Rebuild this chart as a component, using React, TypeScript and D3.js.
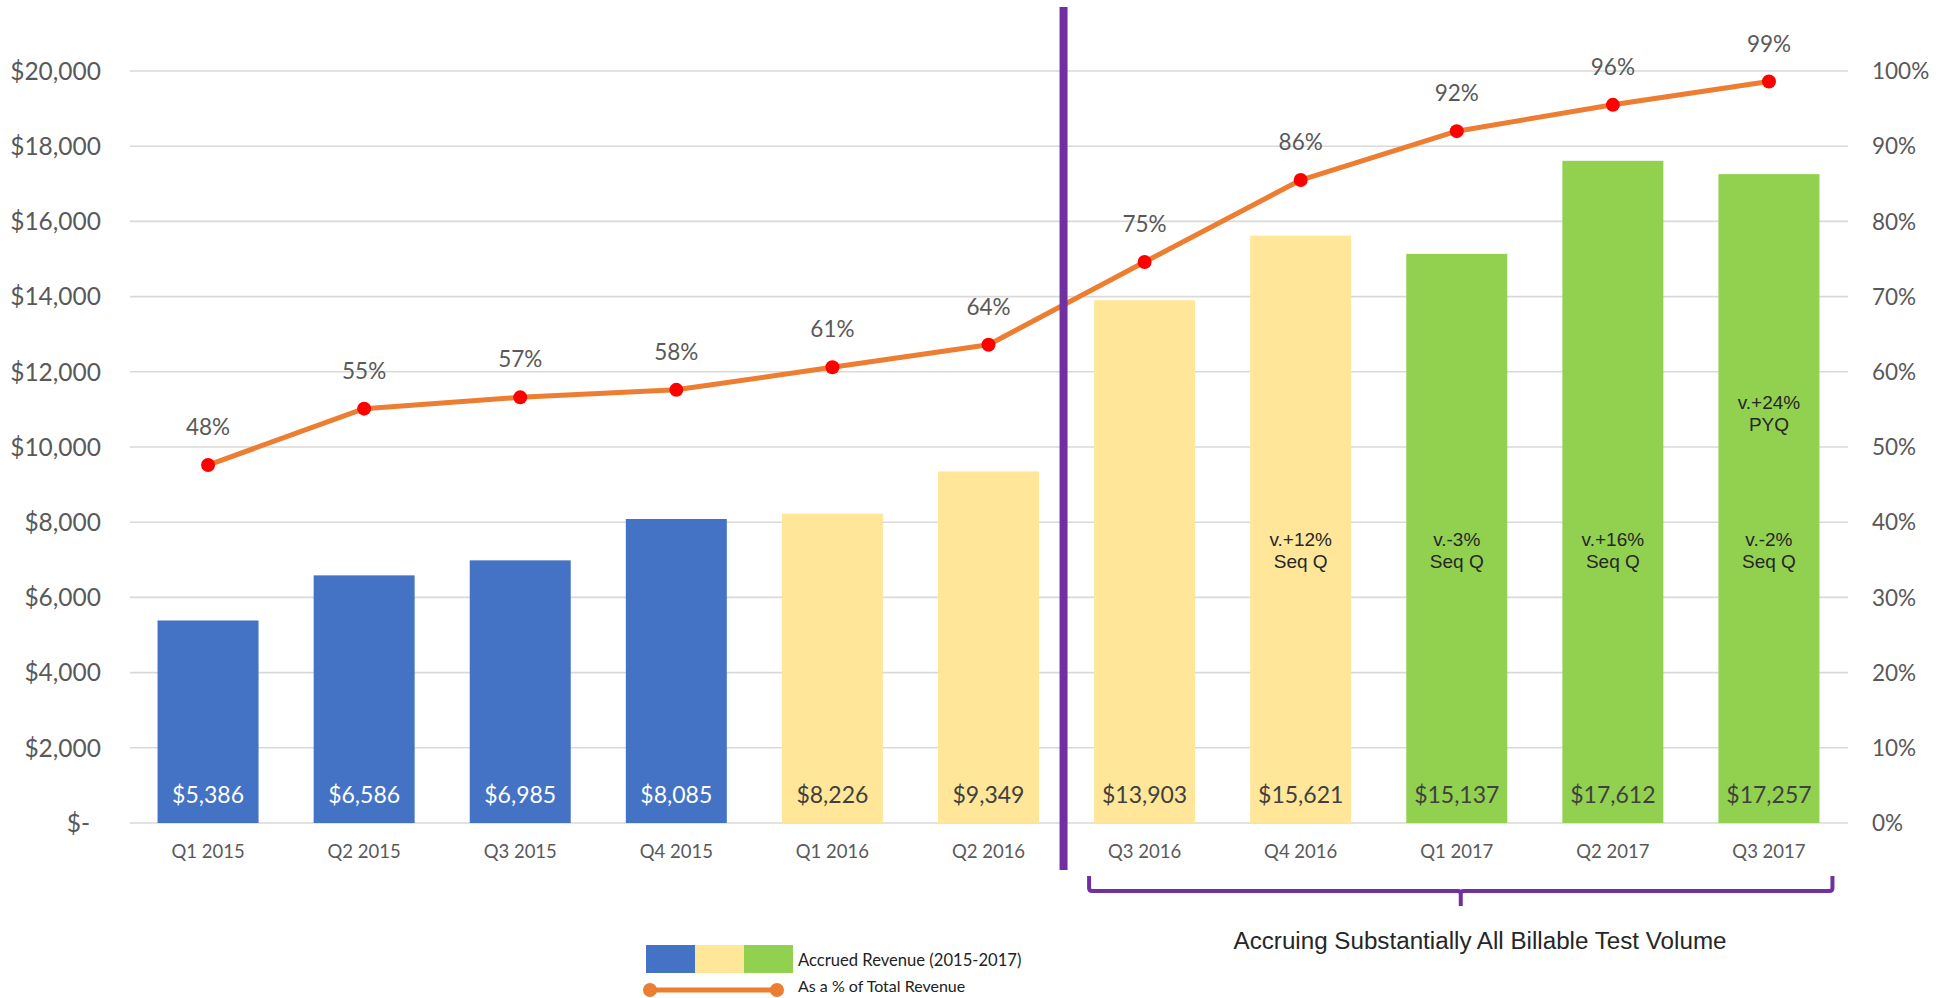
// @ts-nocheck
import { useEffect, useRef } from 'react';
import * as d3 from 'd3';

const quarters = ['Q1 2015', 'Q2 2015', 'Q3 2015', 'Q4 2015', 'Q1 2016', 'Q2 2016', 'Q3 2016', 'Q4 2016', 'Q1 2017', 'Q2 2017', 'Q3 2017'];
const revenue = [5386, 6586, 6985, 8085, 8226, 9349, 13903, 15621, 15137, 17612, 17257];
const pctOfTotal = [0.476, 0.551, 0.566, 0.576, 0.606, 0.636, 0.746, 0.855, 0.92, 0.955, 0.986];
const barPeriod = ['A', 'A', 'A', 'A', 'B', 'B', 'B', 'B', 'C', 'C', 'C'];
const seqChange = [null, null, null, null, null, null, null, 'v.+12%', 'v.-3%', 'v.+16%', 'v.-2%'];
const pyqChange = [null, null, null, null, null, null, null, null, null, null, 'v.+24%'];
const leftTicks = [0, 2000, 4000, 6000, 8000, 10000, 12000, 14000, 16000, 18000, 20000];
const rightTicks = [0, 0.1, 0.2, 0.3, 0.4, 0.5, 0.6, 0.7, 0.8, 0.9, 1];
const legendLabels = ['Accrued Revenue (2015-2017)', 'As a % of Total Revenue'];
const bracketLabel = 'Accruing Substantially All Billable Test Volume';

const W = 1949;
const H = 998;
const CAL = 'Lato, "Open Sans", sans-serif';
const ARIAL = '"Liberation Sans", Arial, sans-serif';

const RevenueChart = () => {
  const svgRef = useRef();

  useEffect(() => {
    const svg = d3.select(svgRef.current);
    svg.selectAll('*').remove();

    const x = d3.scaleBand().domain(quarters).range([130, 1847]).paddingInner(0.353).paddingOuter(0.1765);
    const yL = d3.scaleLinear().domain([0, 20000]).range([823, 71]);
    const yR = d3.scaleLinear().domain([0, 1]).range([823, 71]);
    const color = d3.scaleOrdinal().domain(['A', 'B', 'C']).range(['#4472C4', '#FFE699', '#92D050']);
    const cx = q => x(q) + x.bandwidth() / 2;

    // gridlines
    svg.append('g')
      .selectAll('line')
      .data(leftTicks)
      .enter()
      .append('line')
      .attr('x1', 130)
      .attr('x2', 1848)
      .attr('y1', d => yL(d))
      .attr('y2', d => yL(d))
      .attr('stroke', '#D9D9D9')
      .attr('stroke-width', 1.6);

    // left axis
    svg.append('g')
      .selectAll('text')
      .data(leftTicks)
      .enter()
      .append('text')
      .attr('x', d => (d === 0 ? 90 : 101))
      .attr('y', d => yL(d))
      .attr('dy', '0.36em')
      .attr('text-anchor', 'end')
      .style('font-family', CAL)
      .style('font-size', '24.5px')
      .attr('fill', '#595959')
      .text(d => (d === 0 ? '$-' : '$' + d3.format(',')(d)));

    // right axis
    svg.append('g')
      .selectAll('text')
      .data(rightTicks)
      .enter()
      .append('text')
      .attr('x', 1872)
      .attr('y', d => yR(d))
      .attr('dy', '0.36em')
      .style('font-family', CAL)
      .style('font-size', '22.5px')
      .attr('fill', '#595959')
      .text(d => d3.format('.0%')(d));

    // bars
    svg.append('g')
      .selectAll('rect')
      .data(quarters)
      .enter()
      .append('rect')
      .attr('x', d => x(d))
      .attr('y', (d, i) => yL(revenue[i]))
      .attr('width', x.bandwidth())
      .attr('height', (d, i) => yL(0) - yL(revenue[i]))
      .attr('fill', (d, i) => color(barPeriod[i]));

    // bar value labels
    svg.append('g')
      .selectAll('text')
      .data(quarters)
      .enter()
      .append('text')
      .attr('x', d => cx(d))
      .attr('y', yL(0) - 20)
      .attr('text-anchor', 'middle')
      .style('font-family', CAL)
      .style('font-size', '23px')
      .attr('fill', (d, i) => (barPeriod[i] === 'A' ? '#FFFFFF' : '#404040'))
      .text((d, i) => '$' + d3.format(',')(revenue[i]));

    // x labels
    svg.append('g')
      .selectAll('text')
      .data(quarters)
      .enter()
      .append('text')
      .attr('x', d => cx(d))
      .attr('y', yL(0) + 35)
      .attr('text-anchor', 'middle')
      .style('font-family', CAL)
      .style('font-size', '18.5px')
      .attr('fill', '#595959')
      .text(d => d);

    // change annotations
    const notes = svg.append('g')
      .style('font-family', ARIAL)
      .style('font-size', '19px')
      .attr('fill', '#262626')
      .attr('text-anchor', 'middle');
    quarters.forEach((q, i) => {
      if (seqChange[i]) {
        notes.append('text').attr('x', cx(q)).attr('y', yL(7370)).text(seqChange[i]);
        notes.append('text').attr('x', cx(q)).attr('y', yL(7370) + 22).text('Seq Q');
      }
      if (pyqChange[i]) {
        notes.append('text').attr('x', cx(q)).attr('y', yL(11000)).text(pyqChange[i]);
        notes.append('text').attr('x', cx(q)).attr('y', yL(11000) + 22).text('PYQ');
      }
    });

    // percentage line
    const line = d3.line()
      .x(d => cx(d))
      .y((d, i) => yR(pctOfTotal[i]));
    svg.append('path')
      .datum(quarters)
      .attr('d', line)
      .attr('fill', 'none')
      .attr('stroke', '#ED7D31')
      .attr('stroke-width', 5)
      .attr('stroke-linejoin', 'round');

    svg.append('g')
      .selectAll('circle')
      .data(quarters)
      .enter()
      .append('circle')
      .attr('cx', d => cx(d))
      .attr('cy', (d, i) => yR(pctOfTotal[i]))
      .attr('r', 7)
      .attr('fill', '#FF0000');

    svg.append('g')
      .selectAll('text')
      .data(quarters)
      .enter()
      .append('text')
      .attr('x', d => cx(d))
      .attr('y', (d, i) => yR(pctOfTotal[i]) - 30)
      .attr('text-anchor', 'middle')
      .style('font-family', CAL)
      .style('font-size', '22.5px')
      .attr('fill', '#595959')
      .text((d, i) => d3.format('.0%')(pctOfTotal[i]));

    // divider
    const divX = (x('Q2 2016') + x.bandwidth() + x('Q3 2016')) / 2 - 3;
    svg.append('line')
      .attr('x1', divX)
      .attr('x2', divX)
      .attr('y1', 7)
      .attr('y2', 870)
      .attr('stroke', '#7030A0')
      .attr('stroke-width', 8);

    // bracket
    const bL = x('Q3 2016') - 5;
    const bR = x('Q3 2017') + x.bandwidth() + 13;
    const bM = (bL + bR) / 2;
    const bTop = 876;
    const bY = 891;
    svg.append('path')
      .attr('d', `M${bL},${bTop} L${bL},${bY - 3} Q${bL},${bY} ${bL + 3},${bY} L${bM - 3},${bY} Q${bM},${bY} ${bM},${bY + 3} L${bM},${bY + 15} M${bM},${bY + 3} Q${bM},${bY} ${bM + 3},${bY} L${bR - 3},${bY} Q${bR},${bY} ${bR},${bY - 3} L${bR},${bTop}`)
      .attr('fill', 'none')
      .attr('stroke', '#7030A0')
      .attr('stroke-width', 4);

    svg.append('text')
      .attr('x', 1480)
      .attr('y', 949)
      .attr('text-anchor', 'middle')
      .attr('textLength', 493)
      .attr('lengthAdjust', 'spacingAndGlyphs')
      .style('font-family', ARIAL)
      .style('font-size', '23px')
      .attr('fill', '#262626')
      .text(bracketLabel);

    // legend
    const leg = svg.append('g');
    ['A', 'B', 'C'].forEach((p, i) => {
      leg.append('rect')
        .attr('x', 646 + i * 49)
        .attr('y', 945)
        .attr('width', 49)
        .attr('height', 28)
        .attr('fill', color(p));
    });
    leg.append('text')
      .attr('x', 798)
      .attr('y', 966)
      .style('font-family', CAL)
      .style('font-size', '16.6px')
      .attr('fill', '#222')
      .text(legendLabels[0]);
    leg.append('line')
      .attr('x1', 650)
      .attr('x2', 777)
      .attr('y1', 990)
      .attr('y2', 990)
      .attr('stroke', '#ED7D31')
      .attr('stroke-width', 5);
    [650, 777].forEach(px => {
      leg.append('circle').attr('cx', px).attr('cy', 990).attr('r', 7).attr('fill', '#ED7D31');
    });
    leg.append('text')
      .attr('x', 798)
      .attr('y', 992)
      .style('font-family', CAL)
      .style('font-size', '16px')
      .attr('fill', '#222')
      .text(legendLabels[1]);
  }, []);

  return (
    <svg
      ref={svgRef}
      width={W}
      height={H}
      style={{ position: 'absolute', left: 0, top: 0, display: 'block', background: '#fff' }}
    ></svg>
  );
};

export default function App() {
  return <RevenueChart />;
}
